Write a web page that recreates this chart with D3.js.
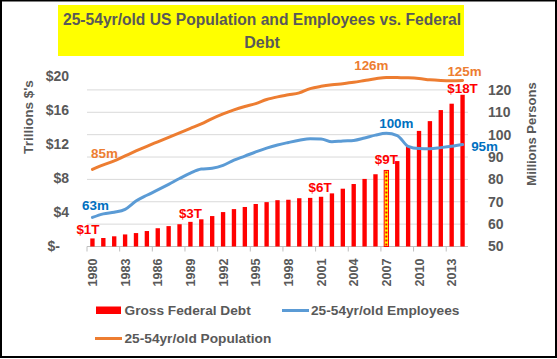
<!DOCTYPE html>
<html>
<head>
<meta charset="utf-8">
<script src="https://cdn.jsdelivr.net/npm/d3@7"></script>
<style>
  body { margin: 0; background: #fff; }
  svg { display: block; font-family: "Liberation Sans", Arial, sans-serif; }
</style>
</head>
<body>
<script>
const years = [1980, 1981, 1982, 1983, 1984, 1985, 1986, 1987, 1988, 1989,
    1990, 1991, 1992, 1993, 1994, 1995, 1996, 1997, 1998, 1999,
    2000, 2001, 2002, 2003, 2004, 2005, 2006, 2007, 2008, 2009,
    2010, 2011, 2012, 2013, 2014];

// gross federal debt, trillions $
const debt = [0.95, 1.0, 1.2, 1.42, 1.58, 1.82, 2.15, 2.4, 2.62, 2.9,
    3.2, 3.58, 4.05, 4.4, 4.65, 5.0, 5.22, 5.45, 5.5, 5.68,
    5.72, 5.85, 6.25, 6.8, 7.35, 7.95, 8.5, 8.95, 10.05, 11.8,
    13.6, 14.75, 16.05, 16.8, 17.85];

// 25-54yr/old employees, millions
const employees = [63.0, 64.6, 65.3, 66.6, 70.3, 72.9, 75.3, 77.8, 80.4, 82.8,
    84.6, 85.0, 86.3, 88.6, 90.4, 92.3, 94.0, 95.4, 96.5, 97.5,
    98.2, 98.1, 96.8, 97.2, 97.4, 98.5, 99.8, 100.6, 99.6, 94.8,
    93.8, 93.7, 94.2, 94.8, 95.6];

// 25-54yr/old population, millions
const population = [84.5, 86.5, 88.3, 90.5, 92.7, 94.8, 96.8, 98.8, 100.8, 102.8,
    104.8, 107.2, 109.3, 111.1, 112.6, 113.9, 115.7, 116.9, 117.8, 118.7,
    120.6, 121.6, 122.3, 122.8, 123.4, 124.2, 125.0, 125.6, 125.5, 125.4,
    125.1, 124.5, 124.2, 124.1, 124.2];

const debtTicks = [0, 4, 8, 12, 16, 20];
const personTicks = [50, 60, 70, 80, 90, 100, 110, 120];
const yearTicks = [1980, 1983, 1986, 1989, 1992, 1995, 1998, 2001, 2004, 2007, 2010, 2013];

const debtLabels = [[1980, '$1T'], [1989, '$3T'], [2001, '$6T'], [2007, '$9T'], [2014, '$18T']];
const popLabels = [[1980, '85m'], [2007, '126m'], [2014, '125m']];
const empLabels = [[1980, '63m'], [2007, '100m'], [2014, '95m']];
const highlightYear = 2007;

const titleLines = ['25-54yr/old US Population and Employees vs. Federal', 'Debt'];

const width = 557, height = 359;
const margin = {top: 76.5, right: 89, bottom: 112.5, left: 87};
const grey = '#595959';
const red = '#FF0000', orange = '#ED7D31', blue = '#5B9BD5', darkBlue = '#0070C0';

const svg = d3.select('body').append('svg')
    .attr('width', width)
    .attr('height', height);

const x = d3.scaleBand()
    .domain(years)
    .range([margin.left, width - margin.right])
    .padding(0);
const step = x.step();

const yDebt = d3.scaleLinear()
    .domain([0, 20])
    .range([height - margin.bottom, margin.top]);

const yPers = d3.scaleLinear()
    .domain([50, 126])
    .range([height - margin.bottom, margin.top]);

// gridlines
svg.append('g')
    .selectAll('line')
    .data(personTicks.slice(1))
    .enter()
    .append('line')
    .attr('x1', margin.left)
    .attr('x2', width - margin.right)
    .attr('y1', d => yPers(d))
    .attr('y2', d => yPers(d))
    .attr('stroke', '#D9D9D9')
    .attr('stroke-width', 1);

// x axis line + ticks at category boundaries
const baseY = height - margin.bottom;
svg.append('line')
    .attr('x1', margin.left).attr('x2', width - margin.right)
    .attr('y1', baseY).attr('y2', baseY)
    .attr('stroke', '#BFBFBF');
svg.append('g')
    .selectAll('line')
    .data(yearTicks)
    .enter()
    .append('line')
    .attr('x1', d => x(d)).attr('x2', d => x(d))
    .attr('y1', baseY).attr('y2', baseY + 5)
    .attr('stroke', '#BFBFBF');

const xAxis = svg.append('g')
    .attr('transform', 'translate(0,' + baseY + ')')
    .call(d3.axisBottom(x).tickValues(yearTicks).tickSize(0));
xAxis.select('.domain').remove();
xAxis.selectAll('text')
    .attr('transform', 'rotate(-90)')
    .attr('x', -12)
    .attr('y', 0)
    .attr('dy', '0.36em')
    .style('text-anchor', 'end')
    .style('font-size', '12.6px')
    .style('font-weight', 'bold')
    .style('font-family', '"Liberation Sans", Arial, sans-serif')
    .attr('fill', grey);

// bars
const barW = step * 0.4;
svg.append('g')
    .selectAll('rect')
    .data(years)
    .enter()
    .append('rect')
    .attr('x', d => x(d) + (step - barW) / 2)
    .attr('y', (d, i) => yDebt(debt[i]))
    .attr('width', barW)
    .attr('height', (d, i) => yDebt(0) - yDebt(debt[i]))
    .attr('fill', d => d === highlightYear ? '#FFFF00' : red)
    .attr('stroke', d => d === highlightYear ? red : 'none')
    .attr('stroke-width', 1);

// dotted centre for highlighted bar
const hi = years.indexOf(highlightYear);
svg.append('line')
    .attr('x1', x(highlightYear) + step / 2)
    .attr('x2', x(highlightYear) + step / 2)
    .attr('y1', yDebt(debt[hi]) + 1)
    .attr('y2', yDebt(0))
    .attr('stroke', red)
    .attr('stroke-width', 2)
    .attr('stroke-dasharray', '2,2');

// lines
const line = vals => d3.line()
    .x((d, i) => x(years[i]) + step / 2)
    .y(d => yPers(d))
    .curve(d3.curveMonotoneX)(vals);

svg.append('path')
    .attr('d', line(population))
    .attr('fill', 'none')
    .attr('stroke', orange)
    .attr('stroke-width', 3)
    .attr('stroke-linecap', 'round');

svg.append('path')
    .attr('d', line(employees))
    .attr('fill', 'none')
    .attr('stroke', blue)
    .attr('stroke-width', 3)
    .attr('stroke-linecap', 'round');

// left axis
const leftAxis = svg.append('g')
    .attr('transform', 'translate(' + margin.left + ',0)')
    .call(d3.axisLeft(yDebt).tickValues(debtTicks).tickSize(0).tickPadding(18)
        .tickFormat(d => d === 0 ? '$-' : '$' + d));
leftAxis.select('.domain').remove();
leftAxis.selectAll('text')
    .attr('dx', d => d === 0 ? -9 : 0)
    .style('font-size', '14px')
    .style('font-weight', 'bold')
    .style('font-family', '"Liberation Sans", Arial, sans-serif')
    .attr('fill', grey);

// right axis
const rightAxis = svg.append('g')
    .attr('transform', 'translate(' + (width - margin.right) + ',0)')
    .call(d3.axisRight(yPers).tickValues(personTicks).tickSize(0).tickPadding(20));
rightAxis.select('.domain').remove();
rightAxis.selectAll('text')
    .style('font-size', '14px')
    .style('font-weight', 'bold')
    .style('font-family', '"Liberation Sans", Arial, sans-serif')
    .attr('fill', grey);

// axis titles
svg.append('text')
    .attr('transform', 'translate(28,117) rotate(-90)')
    .attr('dy', '0.35em')
    .attr('text-anchor', 'middle')
    .attr('fill', grey)
    .style('font-size', '13.5px')
    .style('font-weight', 'bold')
    .text("Trillions $'s");

svg.append('text')
    .attr('transform', 'translate(531,134) rotate(-90)')
    .attr('dy', '0.35em')
    .attr('text-anchor', 'middle')
    .attr('fill', grey)
    .style('font-size', '13px')
    .style('font-weight', 'bold')
    .text('Millions Persons');

// data labels
const labelStyle = sel => sel
    .style('font-size', '13.4px')
    .style('font-weight', 'bold')
    .attr('text-anchor', 'middle');

const debtOff = {'$1T': [-4.5, -4], '$3T': [0, -4], '$6T': [-1, -4.5], '$9T': [0, -6], '$18T': [0, -2]};
svg.append('g').selectAll('text')
    .data(debtLabels)
    .enter()
    .append('text')
    .attr('x', d => x(d[0]) + step / 2 + debtOff[d[1]][0])
    .attr('y', d => yDebt(debt[years.indexOf(d[0])]) + debtOff[d[1]][1])
    .attr('fill', red)
    .text(d => d[1])
    .call(labelStyle);

const popOff = {'85m': [12, -11], '126m': [-15, -7], '125m': [2, -5]};
svg.append('g').selectAll('text')
    .data(popLabels)
    .enter()
    .append('text')
    .attr('x', d => x(d[0]) + step / 2 + popOff[d[1]][0])
    .attr('y', d => yPers(population[years.indexOf(d[0])]) + popOff[d[1]][1])
    .attr('fill', orange)
    .text(d => d[1])
    .call(labelStyle);

const empOff = {'63m': [3, -7], '100m': [10, -5], '95m': [22, 6]};
svg.append('g').selectAll('text')
    .data(empLabels)
    .enter()
    .append('text')
    .attr('x', d => x(d[0]) + step / 2 + empOff[d[1]][0])
    .attr('y', d => yPers(employees[years.indexOf(d[0])]) + empOff[d[1]][1])
    .attr('fill', darkBlue)
    .text(d => d[1])
    .call(labelStyle);

// title
svg.append('rect')
    .attr('x', 58).attr('y', 5)
    .attr('width', 406).attr('height', 51)
    .attr('fill', '#FFFF00');
svg.append('text')
    .attr('x', 262).attr('y', 24.5)
    .attr('text-anchor', 'middle')
    .attr('textLength', 398)
    .attr('lengthAdjust', 'spacingAndGlyphs')
    .attr('fill', grey)
    .style('font-size', '16px')
    .style('font-weight', 'bold')
    .text(titleLines[0]);
svg.append('text')
    .attr('x', 262).attr('y', 48)
    .attr('text-anchor', 'middle')
    .attr('fill', grey)
    .style('font-size', '16px')
    .style('font-weight', 'bold')
    .text(titleLines[1]);

// legend
const legend = svg.append('g')
    .style('font-size', '13.7px')
    .style('font-weight', 'bold')
    .attr('fill', grey);
legend.append('rect')
    .attr('x', 96).attr('y', 306.5).attr('width', 25).attr('height', 7.5)
    .attr('fill', red);
legend.append('text').attr('x', 124.5).attr('y', 315).text('Gross Federal Debt');
legend.append('line')
    .attr('x1', 282).attr('x2', 309).attr('y1', 310.5).attr('y2', 310.5)
    .attr('stroke', blue).attr('stroke-width', 3);
legend.append('text').attr('x', 311).attr('y', 315).text('25-54yr/old Employees');
legend.append('line')
    .attr('x1', 95).attr('x2', 122).attr('y1', 338.5).attr('y2', 338.5)
    .attr('stroke', orange).attr('stroke-width', 3);
legend.append('text').attr('x', 124.5).attr('y', 343).text('25-54yr/old Population');

// frame
svg.append('rect')
    .attr('x', 1).attr('y', 0.5)
    .attr('width', 555).attr('height', 356.5)
    .attr('fill', 'none')
    .attr('stroke', '#000')
    .attr('stroke-width', 2);
</script>
</body>
</html>
